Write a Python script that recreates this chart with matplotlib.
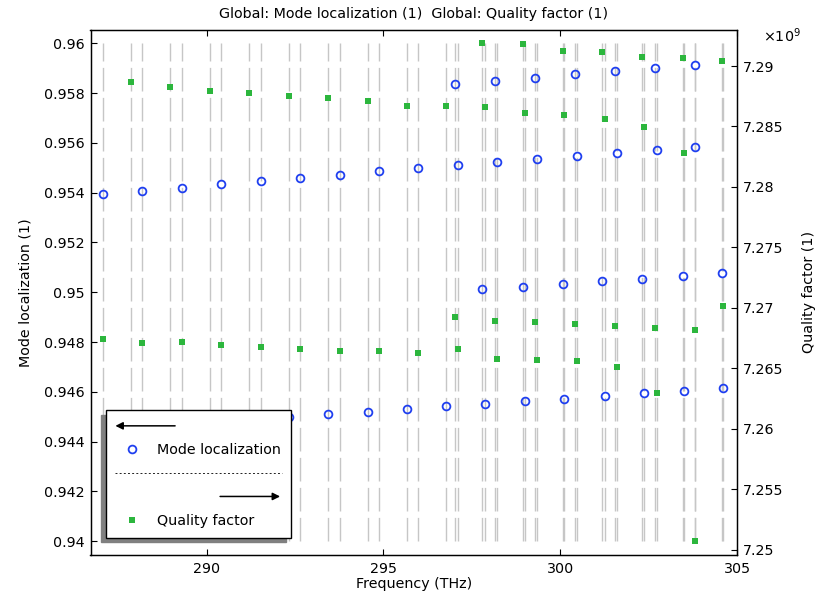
import numpy as np
import matplotlib
matplotlib.use("Agg")
import matplotlib.pyplot as plt
from matplotlib.lines import Line2D
from matplotlib.patches import FancyArrowPatch
from matplotlib.legend_handler import HandlerBase
from matplotlib.ticker import FuncFormatter

# --- data (four eigenmode branches) ---
# branch 1
freq_1 = [287.06, 288.18, 289.30, 290.42, 291.53, 292.65, 293.76, 294.88,
          295.99, 297.11, 298.22, 299.35, 300.47, 301.60, 302.72, 303.81]
loc_1 = [0.95395, 0.95407, 0.95420, 0.95434, 0.95446, 0.95460, 0.95472, 0.95486,
         0.95499, 0.95511, 0.95523, 0.95537, 0.95549, 0.95561, 0.95572, 0.95584]
q_1 = [7.26740e9, 7.26707e9, 7.26715e9, 7.26690e9, 7.26674e9, 7.26657e9, 7.26641e9, 7.26641e9,
       7.26624e9, 7.26657e9, 7.26574e9, 7.26566e9, 7.26558e9, 7.26508e9, 7.26293e9, 7.25069e9]

# branch 2 (first four localization points sit behind the legend)
freq_2 = [287.86, 288.96, 290.09, 291.19, 292.32, 293.42, 294.55, 295.67,
          296.78, 297.88, 299.01, 300.11, 301.25, 302.37, 303.50, 304.59]
loc_2 = [0.94455, 0.94466, 0.94477, 0.94488, 0.94499, 0.94511, 0.94521, 0.94531,
         0.94543, 0.94553, 0.94562, 0.94573, 0.94585, 0.94594, 0.94605, 0.94616]
q_2 = [7.28865e9, 7.28824e9, 7.28791e9, 7.28774e9, 7.28749e9, 7.28733e9, 7.28708e9, 7.28667e9,
       7.28667e9, 7.28658e9, 7.28609e9, 7.28592e9, 7.28559e9, 7.28493e9, 7.28278e9, 7.27013e9]

# branch 3
freq_3 = [297.03, 298.16, 299.29, 300.42, 301.55, 302.68, 303.81]
loc_3 = [0.95837, 0.95850, 0.95862, 0.95876, 0.95888, 0.95901, 0.95914]
q_3 = [7.26922e9, 7.26889e9, 7.26880e9, 7.26864e9, 7.26847e9, 7.26831e9, 7.26814e9]

# branch 4
freq_4 = [297.78, 298.94, 300.06, 301.19, 302.32, 303.46, 304.58]
loc_4 = [0.95013, 0.95023, 0.95033, 0.95044, 0.95055, 0.95066, 0.95076]
q_4 = [7.29188e9, 7.29180e9, 7.29122e9, 7.29113e9, 7.29072e9, 7.29064e9, 7.29039e9]

blue = "#1f3ff0"
green = "#2cb63d"
fs = 10.25

plt.rcParams["font.family"] = "DejaVu Sans"
plt.rcParams["font.size"] = fs
plt.rcParams["lines.scale_dashes"] = False

fig = plt.figure(figsize=(8.18, 6.0), dpi=100)
ax = fig.add_axes([90.5 / 818, 45 / 600, 646.8 / 818, 525.5 / 600])
ax2 = ax.twinx()

all_freq = freq_1 + freq_2 + freq_3 + freq_4
ax.vlines(all_freq, 0.94, 0.96, colors="#c6c6c6", linewidth=1.0,
          linestyles=[(0, (17.0, 4.6))], zorder=1)

ax.plot(freq_1 + freq_2 + freq_3 + freq_4, loc_1 + loc_2 + loc_3 + loc_4, "o",
        ls="none", mfc="none", mec=blue, ms=5.6, mew=1.3, zorder=3)
ax2.plot(freq_1 + freq_2 + freq_3 + freq_4, q_1 + q_2 + q_3 + q_4, "s",
         ls="none", color=green, ms=4.9, mew=0, zorder=3)

ax.set_xlim(286.72, 305)
ax.set_ylim(0.93945, 0.96055)
ax2.set_ylim(7.24956e9, 7.29302e9)

ax.set_xticks([290, 295, 300, 305])
ax.set_yticks(np.arange(0.94, 0.96001, 0.002))
ax2.set_yticks(np.arange(7.25e9, 7.29001e9, 0.005e9))
ax.yaxis.set_major_formatter(FuncFormatter(lambda v, p: f"{v:.3f}".rstrip("0")))
ax2.yaxis.set_major_formatter(FuncFormatter(lambda v, p: f"{v / 1e9:.3f}".rstrip("0")))

ax.tick_params(axis="x", direction="in", top=True, length=4, width=0.8, pad=5)
ax.tick_params(axis="y", direction="in", length=4, width=0.8, pad=4)
ax2.tick_params(axis="y", direction="in", length=4, width=0.8, pad=4)
for a in (ax, ax2):
    for s in a.spines.values():
        s.set_linewidth(0.9)

ax.set_xlabel("Frequency (THz)", labelpad=1)
ax.set_ylabel("Mode localization (1)")
ax.yaxis.set_label_coords(-0.089, 0.5)
ax2.set_ylabel("Quality factor (1)")
ax2.yaxis.set_label_coords(1.100, 0.5)
ax2.text(1.039, 0.988, "×10$^{9}$", transform=ax2.transAxes, ha="left", va="center")
ax.set_title("Global: Mode localization (1)  Global: Quality factor (1)",
             fontsize=fs, pad=8)


# legend decorations: axis arrows and a dotted separator, COMSOL style
class HandlerArrow(HandlerBase):
    def __init__(self, x_tail, x_head):
        super().__init__()
        self.x_tail, self.x_head = x_tail, x_head

    def create_artists(self, legend, orig_handle, xdescent, ydescent,
                       width, height, fontsize, trans):
        y = height / 2 - ydescent
        arr = FancyArrowPatch((self.x_tail, y), (self.x_head, y), arrowstyle="-|>",
                              mutation_scale=11, color="black", lw=1.1,
                              shrinkA=0, shrinkB=0, transform=trans)
        return [arr]


class HandlerDotted(HandlerBase):
    def __init__(self, x0, x1):
        super().__init__()
        self.x0, self.x1 = x0, x1

    def create_artists(self, legend, orig_handle, xdescent, ydescent,
                       width, height, fontsize, trans):
        y = height / 2 - ydescent
        ln = Line2D([self.x0, self.x1], [y, y], color="black", lw=0.6,
                    linestyle=(0, (1.4, 1.6)), transform=trans)
        return [ln]


left_arrow = Line2D([], [])
separator = Line2D([], [])
right_arrow = Line2D([], [])
h_loc = Line2D([], [], marker="o", ls="none", mfc="none", mec=blue, ms=5.6, mew=1.3)
h_q = Line2D([], [], marker="s", ls="none", color=green, ms=4.9, mew=0)

leg = ax2.legend([left_arrow, h_loc, separator, right_arrow, h_q],
                 ["", "Mode localization", "", "", "Quality factor"],
                 handler_map={left_arrow: HandlerArrow(43, 0),
                              separator: HandlerDotted(-0.5, 120),
                              right_arrow: HandlerArrow(75.4, 118.6)},
                 loc="lower left", bbox_to_anchor=(0.0235, 0.033), borderaxespad=0,
                 handlelength=2.39, handletextpad=0.54, labelspacing=0.67,
                 borderpad=0.68, numpoints=1, fancybox=False, framealpha=1,
                 edgecolor="black",
                 shadow={"ox": -3.4, "oy": -3.4, "facecolor": "0.5",
                         "edgecolor": "0.5", "alpha": 1})
leg.get_frame().set_linewidth(1.0)

fig.savefig("out.png", dpi=100)
